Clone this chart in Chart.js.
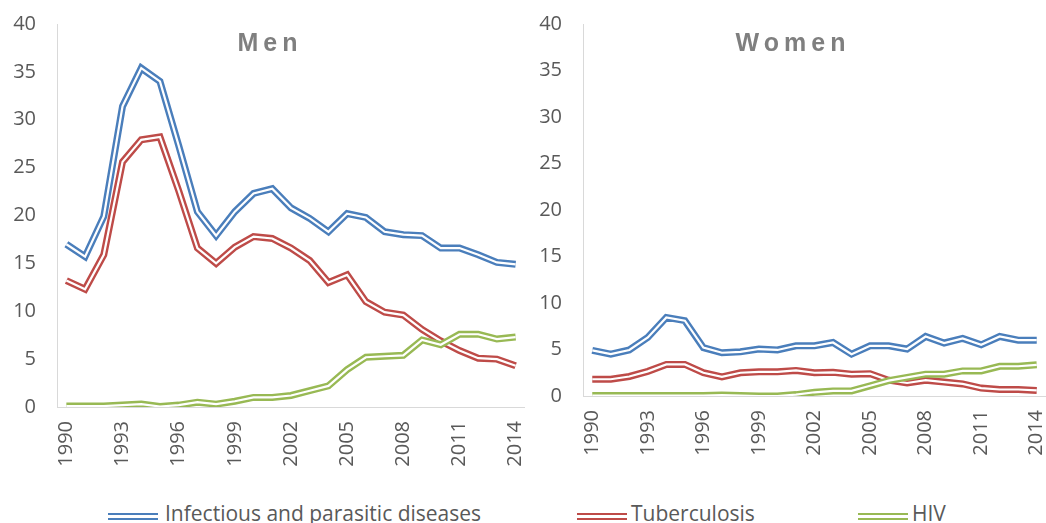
<!DOCTYPE html>
<html lang="en">
<head>
    <meta charset="UTF-8">
    <title>Men and Women - infectious diseases</title>
    <script src="https://cdn.jsdelivr.net/npm/chart.js"></script>
    <style>
        body {
            margin: 0;
            width: 1046px;
            height: 523px;
            overflow: hidden;
            background: #fff;
            position: relative;
            font-family: "Open Sans", sans-serif;
        }
        .panel { position: absolute; top: 0; height: 480px; }
        .title {
            position: absolute;
            top: 28px;
            transform: translateX(-50%);
            font-family: "Liberation Sans", Arial, sans-serif;
            font-weight: bold;
            font-size: 25px;
            letter-spacing: 5px;
            color: #7f7f7f;
            line-height: 28px;
        }
        .swatch {
            position: absolute;
            top: 513px;
            width: 50px;
            height: 0;
            border-top: 7px double;
        }
        .label {
            position: absolute;
            top: 503px;
            font-size: 21px;
            line-height: 21px;
            color: #595959;
            white-space: nowrap;
        }
    </style>
</head>
<body>
    <div class="panel" style="left:0;width:525px"><canvas id="menChart"></canvas></div>
    <div class="panel" style="left:525px;width:521px"><canvas id="womenChart"></canvas></div>

    <div class="title" style="left:270px">Men</div>
    <div class="title" style="left:793px">Women</div>

    <div class="swatch" style="left:108px;border-color:#4a7ebb"></div>
    <div class="label" style="left:165px">Infectious and parasitic diseases</div>
    <div class="swatch" style="left:577px;border-color:#be4b48"></div>
    <div class="label" style="left:631px">Tuberculosis</div>
    <div class="swatch" style="left:858px;border-color:#98b954"></div>
    <div class="label" style="left:912px">HIV</div>

    <script>
        const years = ['1990', '1991', '1992', '1993', '1994', '1995', '1996', '1997', '1998', '1999',
            '2000', '2001', '2002', '2003', '2004', '2005', '2006', '2007', '2008', '2009',
            '2010', '2011', '2012', '2013', '2014'];
        const xTickLabels = ['1990', '1993', '1996', '1999', '2002', '2005', '2008', '2011', '2014'];
        const yTicks = [0, 5, 10, 15, 20, 25, 30, 35, 40];

        const menInfectious = [17.0, 15.7, 19.9, 31.4, 35.4, 34.0, 27.3, 20.4, 17.9, 20.4, 22.3, 22.8, 20.8,
            19.7, 18.3, 20.2, 19.8, 18.3, 18.0, 17.9, 16.6, 16.6, 15.9, 15.1, 14.9];
        const menTuberculosis = [13.2, 12.3, 15.9, 25.6, 27.9, 28.2, 22.6, 16.6, 15.0, 16.7, 17.8, 17.6, 16.6,
            15.3, 13.0, 13.8, 11.0, 9.9, 9.6, 8.1, 6.9, 5.9, 5.1, 5.0, 4.3];
        const menHIV = [0.1, 0.1, 0.1, 0.2, 0.3, 0.05, 0.2, 0.5, 0.3, 0.6, 1.0, 1.0, 1.2,
            1.7, 2.2, 3.9, 5.2, 5.3, 5.4, 7.0, 6.5, 7.6, 7.6, 7.1, 7.3];

        const womenInfectious = [4.9, 4.5, 4.95, 6.3, 8.45, 8.1, 5.2, 4.65, 4.75, 5.05, 4.95, 5.4, 5.4,
            5.75, 4.5, 5.4, 5.4, 5.05, 6.4, 5.7, 6.2, 5.5, 6.4, 6.0, 6.0];
        const womenTuberculosis = [1.8, 1.8, 2.1, 2.65, 3.4, 3.4, 2.5, 2.05, 2.5, 2.6, 2.6, 2.75, 2.5,
            2.55, 2.35, 2.4, 1.7, 1.4, 1.7, 1.5, 1.3, 0.85, 0.7, 0.7, 0.6];
        const womenHIV = [0.05, 0.05, 0.05, 0.05, 0.05, 0.05, 0.05, 0.1, 0.05, 0.0, 0.0, 0.15, 0.4,
            0.55, 0.55, 1.1, 1.65, 2.0, 2.35, 2.35, 2.7, 2.7, 3.2, 3.2, 3.35];

        const colors = { infectious: '#4a7ebb', tb: '#be4b48', hiv: '#98b954' };

        // double line: a thick coloured stroke with a thin white one on top
        function doubleLine(data, color, order) {
            const base = { data: data, tension: 0, pointRadius: 0, pointHoverRadius: 0, fill: false };
            return [
                Object.assign({}, base, { borderColor: color, borderWidth: 7, order: order * 2 }),
                Object.assign({}, base, { borderColor: '#ffffff', borderWidth: 2.2, order: order * 2 - 1 })
            ];
        }

        function makeChart(id, series, axisWidth, axisHeight) {
            const ctx = document.getElementById(id).getContext('2d');
            return new Chart(ctx, {
                type: 'line',
                data: {
                    labels: years,
                    datasets: [
                        ...doubleLine(series[0], colors.infectious, 3),
                        ...doubleLine(series[1], colors.tb, 2),
                        ...doubleLine(series[2], colors.hiv, 1)
                    ]
                },
                options: {
                    responsive: true,
                    maintainAspectRatio: false,
                    animation: false,
                    layout: { padding: { top: 24, right: 0, bottom: 0, left: 0 } },
                    plugins: { legend: { display: false }, tooltip: { enabled: false } },
                    scales: {
                        x: {
                            offset: true,
                            grid: { display: false, drawTicks: false },
                            border: { display: true, color: '#d9d9d9', width: 1 },
                            ticks: {
                                autoSkip: false,
                                maxRotation: 90,
                                minRotation: 90,
                                padding: 14,
                                color: '#595959',
                                font: { family: 'Open Sans', size: 20 },
                                callback: (v, i) => xTickLabels.includes(years[i]) ? years[i] : ''
                            },
                            afterFit: (scale) => {
                                scale.height = axisHeight;
                                scale.paddingLeft = 0;
                                scale.paddingRight = 0;
                            }
                        },
                        y: {
                            min: 0,
                            max: 40,
                            afterBuildTicks: (scale) => {
                                scale.ticks = yTicks.map(v => ({ value: v }));
                            },
                            grid: { display: false, drawTicks: false },
                            border: { display: true, color: '#d9d9d9', width: 1 },
                            ticks: {
                                padding: 21,
                                color: '#595959',
                                font: { family: 'Open Sans', size: 20 }
                            },
                            afterFit: (scale) => {
                                scale.width = axisWidth;
                                scale.paddingTop = 0;
                                scale.paddingBottom = 0;
                            }
                        }
                    }
                }
            });
        }

        makeChart('menChart', [menInfectious, menTuberculosis, menHIV], 57, 73);
        makeChart('womenChart', [womenInfectious, womenTuberculosis, womenHIV], 58, 84);
    </script>
</body>
</html>
